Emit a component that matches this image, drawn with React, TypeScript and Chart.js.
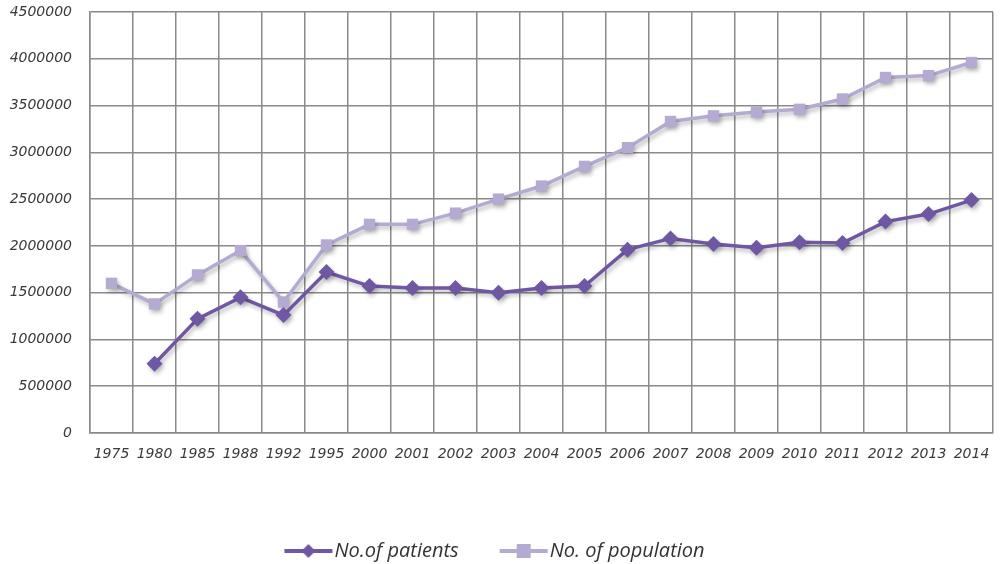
import React, { useEffect, useRef } from "react";
import { Chart, registerables } from "chart.js";

Chart.register(...registerables);

const years: string[] = [
  "1975", "1980", "1985", "1988", "1992", "1995", "2000", "2001", "2002", "2003", "2004",
  "2005", "2006", "2007", "2008", "2009", "2010", "2011", "2012", "2013", "2014",
];

const patients: (number | null)[] = [
  null, 740000, 1220000, 1450000, 1260000, 1720000, 1570000, 1550000, 1550000, 1500000, 1550000,
  1570000, 1960000, 2080000, 2020000, 1980000, 2040000, 2030000, 2260000, 2340000, 2490000,
];

const population: number[] = [
  1600000, 1380000, 1690000, 1950000, 1400000, 2010000, 2230000, 2230000, 2350000, 2500000, 2640000,
  2850000, 3050000, 3330000, 3390000, 3430000, 3460000, 3570000, 3800000, 3820000, 3960000,
];

const seriesNames: string[] = ["No.of patients", "No. of population"];

const PATIENT_COLOR = "#6F57A3";
const POP_COLOR = "#B4AAD2";
const FONT = "'Open Sans', 'DejaVu Sans', sans-serif";
const TICK_FONT = "'DejaVu Sans', 'Open Sans', sans-serif";

const ICON_W = 36;
const ICON_CANVAS_W = 56;

function makeLegendIcon(color: string, style: "diamond" | "square"): HTMLCanvasElement {
  const c = document.createElement("canvas");
  c.width = ICON_CANVAS_W;
  c.height = 18;
  const ctx = c.getContext("2d")!;
  const x0 = 6;
  const x1 = 54;
  const cx = (x0 + x1) / 2;
  ctx.strokeStyle = color;
  ctx.lineWidth = 4;
  ctx.beginPath();
  ctx.moveTo(x0, 9);
  ctx.lineTo(x1, 9);
  ctx.stroke();
  ctx.fillStyle = color;
  if (style === "diamond") {
    ctx.beginPath();
    ctx.moveTo(cx, 2);
    ctx.lineTo(cx + 7, 9);
    ctx.lineTo(cx, 16);
    ctx.lineTo(cx - 7, 9);
    ctx.closePath();
    ctx.fill();
  } else {
    ctx.fillRect(cx - 7, 2, 14, 14);
  }
  return c;
}

const shadowPlugin = {
  id: "shadowPlugin",
  beforeDatasetsDraw(chart: any) {
    const ctx = chart.ctx;
    ctx.save();
    ctx.shadowColor = "rgba(0,0,0,0.25)";
    ctx.shadowBlur = 4;
    ctx.shadowOffsetX = 2;
    ctx.shadowOffsetY = 3;
  },
  afterDatasetsDraw(chart: any) {
    chart.ctx.restore();
  },
};

export default function App() {
  const ref = useRef<HTMLCanvasElement | null>(null);

  useEffect(() => {
    if (!ref.current) return;
    const icons = [makeLegendIcon(PATIENT_COLOR, "diamond"), makeLegendIcon(POP_COLOR, "square")];
    const chart = new Chart(ref.current, {
      type: "line",
      data: {
        labels: years,
        datasets: [
          {
            label: seriesNames[0],
            data: patients,
            borderColor: PATIENT_COLOR,
            backgroundColor: PATIENT_COLOR,
            borderWidth: 3.5,
            pointStyle: "rectRot",
            pointRadius: 8,
            pointBorderWidth: 0,
            tension: 0,
          },
          {
            label: seriesNames[1],
            data: population,
            borderColor: POP_COLOR,
            backgroundColor: POP_COLOR,
            borderWidth: 3.5,
            pointStyle: "rect",
            pointRadius: 8,
            pointBorderWidth: 0,
            tension: 0,
          },
        ],
      },
      plugins: [shadowPlugin],
      options: {
        animation: false,
        responsive: true,
        maintainAspectRatio: false,
        layout: { autoPadding: false, padding: { top: 12, right: 10, left: 0, bottom: -7 } },
        plugins: {
          tooltip: { enabled: false },
          legend: {
            position: "bottom",
            labels: {
              usePointStyle: true,
              pointStyleWidth: ICON_W,
              color: "#333",
              padding: 45,
              font: { family: FONT, size: 20, style: "italic" },
              generateLabels: (chart: any) =>
                chart.data.datasets.map((ds: any, i: number) => ({
                  text: ds.label,
                  pointStyle: icons[i],
                  fillStyle: ds.borderColor,
                  strokeStyle: ds.borderColor,
                  lineWidth: 0,
                  hidden: false,
                  datasetIndex: i,
                  fontColor: "#333",
                })),
            },
          },
        },
        scales: {
          x: {
            offset: true,
            grid: { offset: true, color: "#8a8a8a", lineWidth: 1.5, drawTicks: false },
            border: { color: "#8a8a8a", width: 1.5 },
            ticks: {
              color: "#3a3a3a",
              padding: 13,
              maxRotation: 0,
              autoSkip: false,
              font: { family: TICK_FONT, size: 14, style: "italic" },
            },
            afterFit: (scale: any) => {
              scale.height = 63;
            },
          },
          y: {
            min: 0,
            max: 4500000,
            grid: {
              color: "#8a8a8a",
              lineWidth: 1.5,
              drawTicks: true,
              tickLength: 18,
              tickColor: "rgba(0,0,0,0)",
            },
            border: { color: "#8a8a8a", width: 1.5 },
            ticks: {
              stepSize: 500000,
              color: "#3a3a3a",
              padding: 0,
              font: { family: TICK_FONT, size: 14, style: "italic" },
              callback: (v: any) => String(v),
            },
            afterFit: (scale: any) => {
              scale.width = 90;
            },
          },
        },
      },
    });
    return () => chart.destroy();
  }, []);

  return (
    <div style={{ position: "absolute", left: 0, top: 0, width: 1003, height: 564, background: "#fff" }}>
      <canvas ref={ref} />
    </div>
  );
}
